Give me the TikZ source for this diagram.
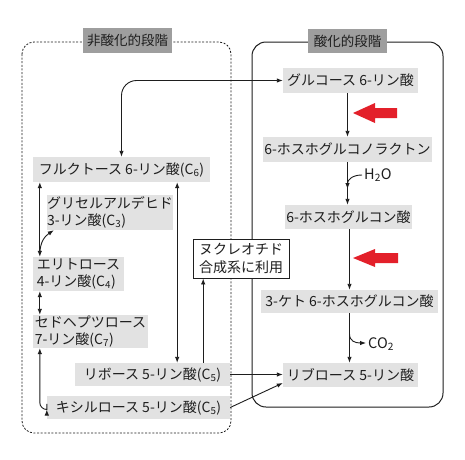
\documentclass[tikz,border=0pt]{standalone}
\usepackage{fontspec}
\setmainfont{Noto Sans CJK JP}
\usetikzlibrary{arrows.meta}
\definecolor{boxgray}{HTML}{E2E2E2}
\definecolor{labgray}{HTML}{9E9E9E}
\definecolor{redarr}{HTML}{E3202A}
\definecolor{ink}{HTML}{1E1E1E}
\begin{document}
\begin{tikzpicture}[x=1pt,y=-1pt,
  every node/.style={text=ink},
  gbox/.style={fill=boxgray, inner sep=0pt, font=\fontsize{14}{17}\selectfont, align=left},
  labbox/.style={fill=labgray, inner sep=0pt, font=\fontsize{13.5}{16}\selectfont},
  conn/.style={draw=ink, line width=0.9pt, -{Latex[length=6pt,width=4.5pt]}},
  dconn/.style={draw=ink, line width=0.9pt, {Latex[length=6pt,width=4.5pt]}-{Latex[length=6pt,width=4.5pt]}},
  redtip/.style={fill=redarr, draw=none},
  chemlab/.style={anchor=west, inner sep=0pt, font=\fontsize{14.5}{16}\selectfont}
]
\useasboundingbox (0,0) rectangle (465,459);
\fill[white] (0,0) rectangle (465,459);

% frames
\draw[ink, line width=0.8pt, dash pattern=on 2pt off 1.6pt, rounded corners=12pt] (22,42) rectangle (231,433);
\draw[ink, line width=1pt, rounded corners=14pt] (252,42) rectangle (443,407);
\node[labbox, minimum width=89pt, minimum height=25pt] (lab1) at (127.5,40.5) {非酸化的段階};
\node[labbox, minimum width=79pt, minimum height=24pt] (lab2) at (347.5,41) {酸化的段階};

% right column nodes
\node[gbox, minimum width=135pt, minimum height=25pt] (glc) at (350.5,80.5) {グルコース 6-リン酸};
\node[gbox, minimum width=169pt, minimum height=25pt] (lac) at (347.5,149.5) {6-ホスホグルコノラクトン};
\node[gbox, minimum width=127pt, minimum height=24pt] (pg) at (348.5,217) {6-ホスホグルコン酸};
\node[gbox, minimum width=177pt, minimum height=23pt] (keto) at (349.5,301.5) {3-ケト 6-ホスホグルコン酸};
\node[gbox, minimum width=135pt, minimum height=24pt] (rub) at (350.5,375) {リブロース 5-リン酸};

% left column nodes
\node[gbox, minimum width=177pt, minimum height=25pt] (fru) at (121.5,169.5) {フルクトース 6-リン酸(C\textsubscript{6})};
\node[gbox, minimum width=126pt, minimum height=35pt] (gap) at (110,212.5) {グリセルアルデヒド\\3-リン酸(C\textsubscript{3})};
\node[gbox, minimum width=91pt, minimum height=34pt] (ery) at (78.5,274) {エリトロース\\4-リン酸(C\textsubscript{4})};
\node[gbox, minimum width=115pt, minimum height=33pt] (sed) at (90.5,331.5) {セドヘプツロース\\7-リン酸(C\textsubscript{7})};
\node[gbox, minimum width=155pt, minimum height=23pt] (rib) at (152.5,374.5) {リボース 5-リン酸(C\textsubscript{5})};
\node[gbox, minimum width=183pt, minimum height=23pt] (xyl) at (138.5,407.5) {キシルロース 5-リン酸(C\textsubscript{5})};

% nucleotide box
\node[draw=ink, line width=0.9pt, fill=white, inner sep=0pt, minimum width=96pt, minimum height=39pt,
      font=\fontsize{14}{18}\selectfont, align=left] (nuc) at (241,258.5) {ヌクレオチド\\合成系に利用};

% red arrows
\fill[redtip] (353,113) -- (375,103) -- (375,108) -- (397,108) -- (397,118) -- (375,118) -- (375,123) -- cycle;
\fill[redtip] (353,258) -- (375,249) -- (375,253) -- (398,253) -- (398,263) -- (375,263) -- (375,267) -- cycle;

% oxidative chain
\draw[conn] (lac.north |- glc.south) -- (lac.north);
\draw[conn] (lac.south) -- (lac.south |- pg.north);
\coordinate (h2oend) at (362,175);
\node[chemlab] (h2o) at (364,175) {H\textsubscript{2}O};
\draw[conn] (h2oend) .. controls (352,175) and (347.5,180) .. (347.5,189);
\draw[conn] (keto.north |- pg.south) -- (keto.north);
\draw[conn] (keto.south) -- (keto.south |- rub.north);
\coordinate (co2start) at (349.5,334);
\node[chemlab] (co2) at (368,344) {CO\textsubscript{2}};
\draw[conn] (co2start) .. controls (349.5,341) and (355,343) .. (366,343);

% glucose <-> fructose
\draw[dconn, rounded corners=15pt] (fru.north) |- (glc.west);

% left column connectors
\draw[dconn] ([xshift=7pt]fru.south west) -- ([xshift=7pt]ery.north west);
\coordinate (br1) at (40,253);
\draw[conn] (br1) .. controls (40,242) and (45,236) .. ([xshift=7pt]gap.south west);
\draw[dconn] ([xshift=7pt]ery.south west) -- ([xshift=7pt]sed.north west);
\draw[dconn, rounded corners=7pt] ([xshift=7pt]sed.south west) |- ([yshift=-2pt]xyl.west);

% fructose <-> ribose 5P
\draw[dconn] ([xshift=-33pt]fru.south east) -- ([xshift=-33pt]fru.south east |- rib.north);
% ribose 5P -> nucleotide
\draw[conn] ([xshift=-27pt]rib.north east) -- ([xshift=-27pt]rib.north east |- nuc.south);

% to ribulose
\draw[conn] (rib.east) -- (rib.east -| rub.west);
\draw[conn] (xyl.east) -- ([yshift=-8pt]rub.west);
\end{tikzpicture}
\end{document}
